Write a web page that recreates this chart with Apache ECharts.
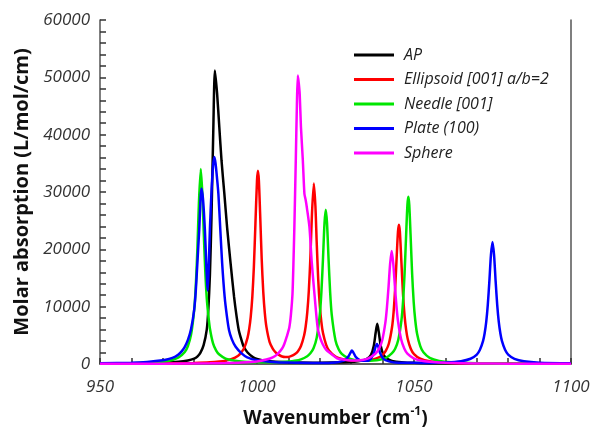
<!DOCTYPE html>
<html><head><meta charset="utf-8">
<script src="https://cdn.jsdelivr.net/npm/echarts@6/dist/echarts.min.js"></script>
<style>html,body{margin:0;padding:0;background:#fff}#c{width:592px;height:427px}</style>
</head><body><div id="c"></div>
<script>
const seriesNames = ['AP', 'Ellipsoid [001] a/b=2', 'Needle [001]', 'Plate (100)', 'Sphere'];
const xTicks = [950, 1000, 1050, 1100];
const yTicks = [0, 10000, 20000, 30000, 40000, 50000, 60000];

const apX = [950,960,970,975,978,980,981,982,983,984,984.5,985,985.5,986.1,986.6,987.3,988.0,988.7,989.6,990.5,991.6,992.7,993.5,994.2,995,995.8,997,998.8,1000,1003,1006,1010,1020,1028,1031,1033,1035,1036.3,1037.2,1037.8,1038.3,1038.8,1039.4,1040.3,1041.5,1043,1046,1050,1060,1080,1100];
const apY = [60,110,230,380,620,950,1300,2000,3300,6000,9500,15500,25500,41300,51200,47100,41300,35500,29700,23700,17500,11700,8300,5900,4300,3000,2000,1160,900,550,400,300,230,300,400,550,900,1600,3200,5500,7000,5500,3200,1600,900,550,320,200,110,50,30];

const ellX = [950,960,970,975,980,985,988,990,992,994,995,996,997,997.5,998,998.5,999,999.5,1000,1000.3,1000.6,1001,1001.5,1002,1002.5,1003,1004,1005,1006,1007,1008,1009,1010,1011,1012,1013,1014,1015,1015.5,1016,1016.5,1017,1017.5,1018.1,1018.6,1019,1019.5,1020,1020.5,1021,1022,1023,1025,1028,1030,1033,1035,1037,1039,1040,1041,1042,1043,1043.5,1044,1044.5,1044.9,1045.2,1045.5,1046,1046.5,1047,1047.5,1048,1049,1050,1052,1055,1060,1070,1080,1100];
const ellY = [40,60,100,125,180,290,430,590,870,1450,1990,2900,4610,6060,8240,11620,16900,24480,32000,33700,32000,26160,18270,12530,8840,6470,3870,2700,2000,1600,1300,1220,1230,1400,1700,2200,3150,4980,6540,8950,12740,18530,26100,31500,27550,21420,14720,10190,7300,5430,3380,2290,1300,765,630,580,636,800,1200,1600,2280,3580,6400,9060,13200,18880,23090,24300,23080,17650,12200,8390,5950,4370,2620,1730,920,470,230,95,60,30];

const needleX = [950,960,965,970,973,975,977,978,979,980,980.5,981,981.5,982.1,982.6,983,983.5,984,984.5,985,986,987,988,990,993,996,1000,1005,1008,1010,1012,1014,1016,1017,1018,1019,1020,1020.5,1021,1021.5,1021.9,1022.3,1022.8,1023.3,1023.8,1025,1026,1027,1029,1031,1033,1035,1037,1039,1041,1043,1044,1045,1046,1046.5,1047,1047.5,1047.9,1048.2,1048.5,1048.9,1049.4,1049.9,1050.4,1051,1052,1053,1055,1058,1062,1070,1080,1090,1100];
const needleY = [85,140,220,410,705,1130,2100,3140,5120,9460,13570,19860,28060,34000,29610,23500,16500,11500,8500,6200,3600,2350,1650,950,550,380,290,290,350,425,560,810,1350,1870,2750,4550,8620,12480,18190,24560,26900,24560,18190,12480,8620,4100,2560,1760,1020,720,590,560,600,740,1050,1900,2660,4220,7630,10820,15790,22630,27700,29150,27700,22630,15790,10820,7630,5220,3110,2040,1070,540,285,125,65,38,25];

const plateX = [950,960,965,970,972,974,975,976,977,978,979,980,980.5,981,981.6,982.3,982.8,983.4,983.8,984.1,984.3,984.6,985,985.5,986,986.4,986.8,987.2,987.7,988.3,988.9,989.7,990.4,991.1,992,993.2,995,996.9,1000,1005,1010,1020,1025,1026.8,1028.3,1029.1,1029.8,1030.2,1030.7,1031.5,1033,1035,1036.3,1037.2,1037.7,1038.2,1038.7,1039.2,1040.2,1042,1045,1050,1055,1060,1065,1068,1070,1071,1072,1072.5,1073,1073.5,1074,1074.5,1075,1075.5,1076,1076.5,1077,1077.5,1078,1079,1080,1082,1085,1090,1100];
const plateY = [130,230,370,650,900,1300,1650,2200,3000,4200,6100,9500,12700,17500,23400,30600,28800,23400,18000,14300,12800,16500,23500,30000,34500,36100,35000,32800,29700,23600,17600,11700,8400,5900,4300,3000,1900,1160,650,370,250,170,260,450,800,1300,2000,2350,2000,1200,600,550,950,1900,2900,3500,2900,1900,950,450,220,200,190,260,490,915,1650,2470,4030,5350,7330,10300,14400,19000,21300,19000,14400,10300,7330,5350,4030,2470,1650,900,470,230,110];

const sphereX = [950,970,985,990,995,1000,1003,1005,1006.6,1008,1008.7,1009.5,1010.3,1010.8,1011.3,1011.6,1011.9,1012.35,1012.7,1013,1013.3,1013.6,1014,1014.6,1015.1,1015.5,1015.9,1016.7,1017.4,1018.3,1019.3,1020.1,1020.9,1022,1023.6,1025.5,1027.8,1030,1033,1035,1036.5,1037.9,1038.9,1039.9,1040.9,1041.4,1041.9,1042.4,1042.9,1043.4,1043.9,1044.4,1044.9,1045.9,1046.9,1047.9,1049.9,1052.9,1056,1060,1070,1080,1100];
const sphereY = [30,60,120,160,250,450,770,1150,1780,2700,3500,4800,6400,8600,12200,17500,23900,35500,45000,50300,49000,47100,41300,35500,29700,28600,27200,23900,18000,12200,6400,4600,3500,2500,1780,1000,750,620,660,900,1300,1900,2700,4200,7300,10000,13500,17500,19700,17500,13700,10200,7500,4300,2700,1800,1000,520,330,200,90,55,25];

const colors = ['#000000', '#ff0000', '#00e600', '#0000ff', '#ff00ff'];
const xs = [apX, ellX, needleX, plateX, sphereX];
const ys = [apY, ellY, needleY, plateY, sphereY];

const zip = (a, b) => a.map((v, i) => [v, b[i]]);
const font = '"Open Sans", "DejaVu Sans", sans-serif';
const frameLine = {show: true, lineStyle: {color: '#555', width: 1.5}};

const chart = echarts.init(document.getElementById('c'), null, {renderer: 'canvas'});
chart.setOption({
  animation: false,
  backgroundColor: '#fff',
  grid: {left: 100, right: 21, top: 20, bottom: 63, containLabel: false, outerBoundsMode: 'none'},
  legend: {
    data: seriesNames.map(n => ({name: n, icon: 'rect'})),
    orient: 'vertical',
    left: 349, top: 40,
    itemWidth: 40, itemHeight: 3, itemGap: 4.5,
    textStyle: {fontFamily: font, fontStyle: 'italic', fontSize: 16, color: '#222', lineHeight: 20, padding: [0, 0, 0, 5]}
  },
  xAxis: [{
    type: 'value', min: 950, max: 1100, interval: 10,
    name: '{t|Wavenumber (cm}{s|-1}{t|)}',
    nameLocation: 'middle', nameGap: 42,
    nameTextStyle: {
      rich: {
        t: {fontFamily: font, fontWeight: 'bold', fontSize: 19, color: '#111', verticalAlign: 'bottom', lineHeight: 22},
        s: {fontFamily: font, fontWeight: 'bold', fontSize: 12, color: '#111', verticalAlign: 'top', lineHeight: 22, padding: [0, 0, 8, 0]}
      }
    },
    axisLine: frameLine,
    axisTick: {show: true, inside: true, length: 6, lineStyle: {color: '#333', width: 1.5}},
    splitLine: {show: false},
    axisLabel: {
      margin: 15, fontFamily: font, fontStyle: 'italic', fontSize: 17, color: '#333',
      showMinLabel: true, showMaxLabel: true,
      formatter: v => (xTicks.indexOf(v) >= 0 ? String(v) : '')
    }
  }, {
    type: 'value', min: 950, max: 1100, position: 'top',
    axisLine: frameLine, axisTick: {show: false}, axisLabel: {show: false}, splitLine: {show: false}
  }],
  yAxis: [{
    type: 'value', min: 0, max: 60000, interval: 2000,
    name: 'Molar absorption (L/mol/cm)',
    nameLocation: 'middle', nameGap: 64,
    nameTextStyle: {fontFamily: font, fontWeight: 'bold', fontSize: 20, color: '#111'},
    axisLine: frameLine,
    axisTick: {show: true, inside: true, length: 6, lineStyle: {color: '#333', width: 1.5}},
    splitLine: {show: false},
    axisLabel: {
      margin: 10, fontFamily: font, fontStyle: 'italic', fontSize: 17, color: '#333',
      showMinLabel: true, showMaxLabel: true,
      formatter: v => (yTicks.indexOf(v) >= 0 ? String(v) : '')
    }
  }, {
    type: 'value', min: 0, max: 60000, position: 'right',
    axisLine: frameLine, axisTick: {show: false}, axisLabel: {show: false}, splitLine: {show: false}
  }],
  series: seriesNames.map((n, i) => ({
    name: n, type: 'line', data: zip(xs[i], ys[i]),
    xAxisIndex: 0, yAxisIndex: 0,
    symbol: 'none', smooth: 0.25, clip: true,
    lineStyle: {color: colors[i], width: 2.5},
    itemStyle: {color: colors[i]}
  }))
});
</script></body></html>
